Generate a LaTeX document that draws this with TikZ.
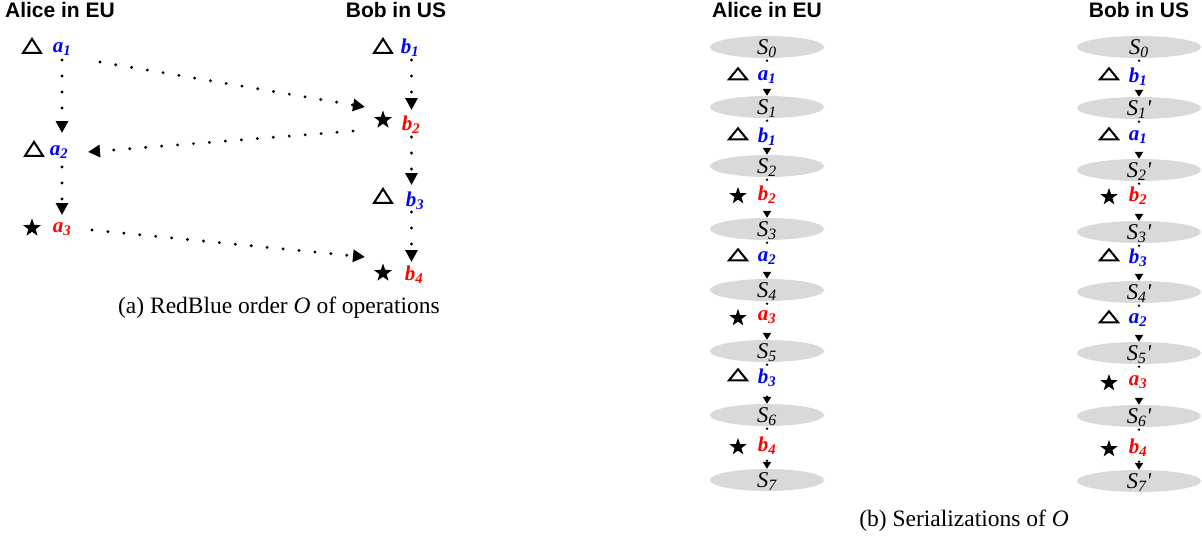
\documentclass[tikz,border=0pt]{standalone}
\usepackage{fontspec}
\setmainfont{Liberation Serif}
\newfontfamily\tmsf{Liberation Serif}
\newfontfamily\arl{Liberation Sans}
\usetikzlibrary{arrows.meta,shapes.geometric,calc}
\definecolor{ellgray}{RGB}{217,217,217}
\begin{document}
\begin{tikzpicture}[x=1pt,y=-1pt,
  hdr/.style={font=\arl\bfseries\fontsize{21}{25}\selectfont, inner sep=0pt},
  op/.style={font=\tmsf\bfseries\itshape\fontsize{21}{25}\selectfont, inner sep=1pt},
  opb/.style={op, text=blue},
  opr/.style={op, text=red},
  captext/.style={font=\tmsf\fontsize{23.5}{28}\selectfont, inner sep=0pt},
  tril/.style={draw, line width=2pt, isosceles triangle, isosceles triangle stretches, shape border rotate=90, minimum width=18pt, minimum height=14pt, inner sep=0pt},
  trir/.style={draw, line width=2pt, isosceles triangle, isosceles triangle stretches, shape border rotate=90, minimum width=18pt, minimum height=11pt, inner sep=0pt},
  starsym/.style={star, star points=5, star point ratio=2.5, fill=black, minimum size=19pt, inner sep=0pt},
  stars/.style={starsym, minimum size=18pt},
  dotarr/.style={line width=3.2pt, line cap=round, dash pattern=on 0pt off 16pt, -{Triangle[length=12pt,width=12pt]}},
  sarr/.style={line width=2.6pt, line cap=round, dash pattern=on 0pt off 16pt, shorten <=2.5pt, -{Triangle[length=7pt,width=8pt]}},
  sel/.style={ellipse, fill=ellgray, inner sep=0pt, text depth=0pt, minimum height=22pt, font=\tmsf\itshape\fontsize{22.5}{26}\selectfont},
  sela/.style={sel, minimum width=114pt},
  selb/.style={sel, minimum width=124pt},
  lab/.style={fill=white, inner sep=1pt}
]
\useasboundingbox (0,0) rectangle (1202,539);

% ---------- (a) ----------
\node[hdr] (hA) at (60,10) {Alice in EU};
\node[hdr] (hB) at (396,10) {Bob in US};

\node[tril] (ta1) at (32,48) {};
\node[opb] (a1) at (62,49) {a\textsubscript{1}};
\node[tril] (tb1) at (383,48) {};
\node[opb] (b1) at (410,48) {b\textsubscript{1}};
\node[starsym] (sb2) at (383,120) {};
\node[opr] (b2) at (411,125) {b\textsubscript{2}};
\node[tril] (ta2) at (34,151) {};
\node[opb] (a2) at (59,152) {a\textsubscript{2}};
\node[starsym] (sa3) at (32,228) {};
\node[opr] (a3) at (62,229) {a\textsubscript{3}};
\node[tril] (tb3) at (383,198) {};
\node[opb] (b3) at (415,201) {b\textsubscript{3}};
\node[starsym] (sb4) at (383,273) {};
\node[opr] (b4) at (414,275) {b\textsubscript{4}};

\draw[dotarr] ($(a1)+(0,11)$) -- ($(a1|-a2)+(0,-19)$);
\draw[dotarr] ($(a1|-a2)+(0,15)$) -- ($(a1|-a3)+(0,-14)$);
\draw[dotarr] ($(b1)+(1.5,12)$) -- ($(b1|-b2)+(1.5,-15)$);
\draw[dotarr] ($(b1|-b2)+(1.5,12)$) -- ($(b1|-b3)+(1.5,-16)$);
\draw[dotarr] ($(b1|-b3)+(1.5,11)$) -- ($(b1|-b4)+(1.5,-13)$);

\draw[dotarr] ($(a1)+(38,13)$) -- ($(sb2)+(-18,-13)$);
\draw[dotarr] ($(sb2)+(-30,11)$) -- ($(a2)+(29,0)$);
\draw[dotarr] ($(a3)+(30,1)$) -- ($(sb4)+(-18,-16)$);

\node[captext] (capa) at (279,308) {(a) RedBlue order \textit{O} of operations};

% ---------- (b) Alice ----------
\node[hdr] (hA2) at (767,10) {Alice in EU};
\node[sela] (A0) at (767,47) {S\textsubscript{0}};
\node[sela] (A1) at (767,107) {S\textsubscript{1}};
\node[sela] (A2) at (767,166) {S\textsubscript{2}};
\node[sela] (A3) at (767,229) {S\textsubscript{3}};
\node[sela] (A4) at (767,290) {S\textsubscript{4}};
\node[sela] (A5) at (767,351) {S\textsubscript{5}};
\node[sela] (A6) at (767,415) {S\textsubscript{6}};
\node[sela] (A7) at (767,480) {S\textsubscript{7}};
\draw[sarr] (A0.south) -- (A1.north);
\draw[sarr] (A1.south) -- (A2.north);
\draw[sarr] (A2.south) -- (A3.north);
\draw[sarr] (A3.south) -- (A4.north);
\draw[sarr] (A4.south) -- (A5.north);
\draw[sarr] (A5.south) -- (A6.north);
\draw[sarr] (A6.south) -- (A7.north);
\node[opb,lab] (Aa1) at (767,77) {a\textsubscript{1}};
\node[trir] (tAa1) at (738,75) {};
\node[opb,lab] (Ab1) at (767,137) {b\textsubscript{1}};
\node[trir] (tAb1) at (738,135) {};
\node[opr,lab] (Ab2) at (767,195) {b\textsubscript{2}};
\node[stars] (sAb2) at (738,196) {};
\node[opb,lab] (Aa2) at (767,258) {a\textsubscript{2}};
\node[trir] (tAa2) at (738,256) {};
\node[opr,lab] (Aa3) at (767,317) {a\textsubscript{3}};
\node[stars] (sAa3) at (738,318) {};
\node[opb,lab] (Ab3) at (767,378) {b\textsubscript{3}};
\node[trir] (tAb3) at (738,376) {};
\node[opr,lab] (Ab4) at (767,446) {b\textsubscript{4}};
\node[stars] (sAb4) at (738,447) {};

% ---------- (b) Bob ----------
\node[hdr] (hB2) at (1139,10) {Bob in US};
\node[selb] (B0) at (1139,47) {S\textsubscript{0}};
\node[selb] (B1) at (1139,108) {S\textsubscript{1}'};
\node[selb] (B2) at (1139,170) {S\textsubscript{2}'};
\node[selb] (B3) at (1139,232) {S\textsubscript{3}'};
\node[selb] (B4) at (1139,292) {S\textsubscript{4}'};
\node[selb] (B5) at (1139,353) {S\textsubscript{5}'};
\node[selb] (B6) at (1139,416) {S\textsubscript{6}'};
\node[selb] (B7) at (1139,481) {S\textsubscript{7}'};
\draw[sarr] (B0.south) -- (B1.north);
\draw[sarr] (B1.south) -- (B2.north);
\draw[sarr] (B2.south) -- (B3.north);
\draw[sarr] (B3.south) -- (B4.north);
\draw[sarr] (B4.south) -- (B5.north);
\draw[sarr] (B5.south) -- (B6.north);
\draw[sarr] (B6.south) -- (B7.north);
\node[opb,lab] (Bb1) at (1138,77) {b\textsubscript{1}};
\node[trir] (tBb1) at (1109,75) {};
\node[opb,lab] (Ba1) at (1138,137) {a\textsubscript{1}};
\node[trir] (tBa1) at (1109,135) {};
\node[opr,lab] (Bb2) at (1138,196) {b\textsubscript{2}};
\node[stars] (sBb2) at (1109,197) {};
\node[opb,lab] (Bb3) at (1138,258) {b\textsubscript{3}};
\node[trir] (tBb3) at (1109,256) {};
\node[opb,lab] (Ba2) at (1138,320) {a\textsubscript{2}};
\node[trir] (tBa2) at (1109,318) {};
\node[opr,lab] (Ba3) at (1138,382) {a\textsubscript{3}};
\node[stars] (sBa3) at (1109,383) {};
\node[opr,lab] (Bb4) at (1138,448) {b\textsubscript{4}};
\node[stars] (sBb4) at (1109,449) {};

\node[captext] (capb) at (964,521) {(b) Serializations of \textit{O}};
\end{tikzpicture}
\end{document}
